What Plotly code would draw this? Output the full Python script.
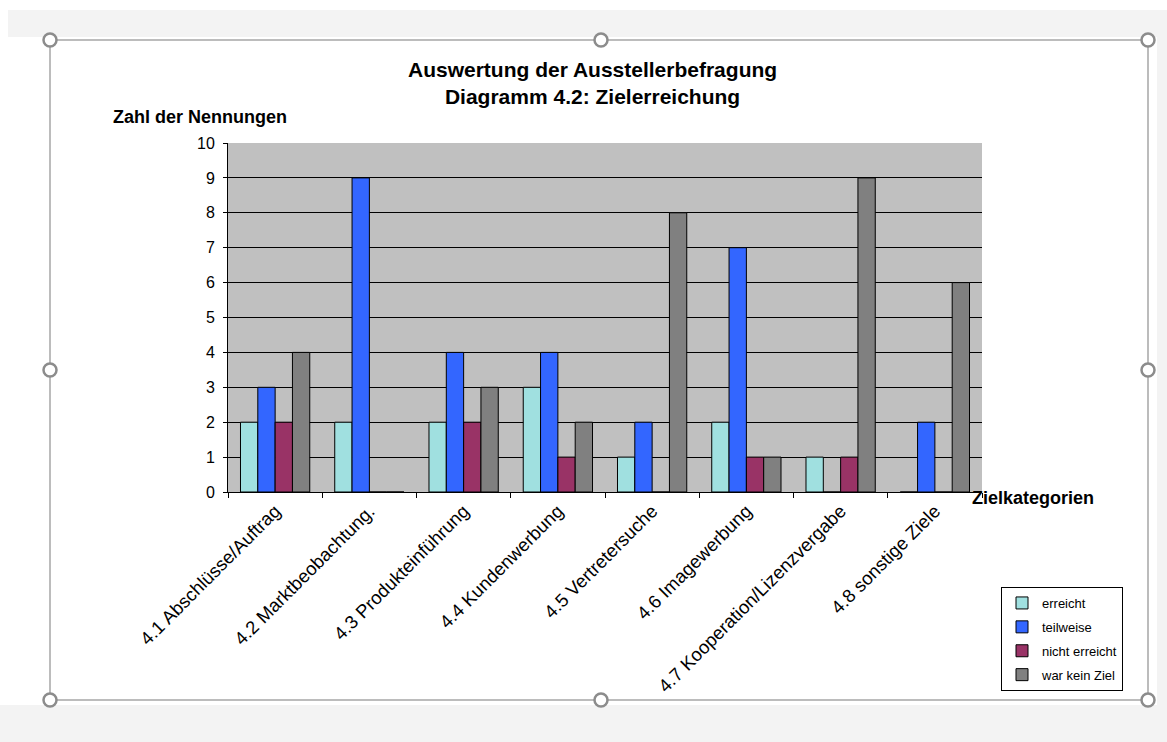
import plotly.graph_objects as go

# ---- data ----
categories = [
    "4.1 Abschlüsse/Auftrag",
    "4.2 Marktbeobachtung.",
    "4.3 Produkteinführung",
    "4.4 Kundenwerbung",
    "4.5 Vertretersuche",
    "4.6 Imagewerbung",
    "4.7 Kooperation/Lizenzvergabe",
    "4.8 sonstige Ziele",
]
erreicht = [2, 2, 2, 3, 1, 2, 1, 0]
teilweise = [3, 9, 4, 4, 2, 7, 0, 2]
nicht_erreicht = [2, 0, 2, 1, 0, 1, 1, 0]
war_kein_ziel = [4, 0, 3, 2, 8, 1, 9, 6]

series_names = ["erreicht", "teilweise", "nicht erreicht", "war kein Ziel"]
series_values = [erreicht, teilweise, nicht_erreicht, war_kein_ziel]
series_colors = ["#A0E0E0", "#3366FF", "#993366", "#808080"]

y_ticks = list(range(0, 11))

FONT = "Liberation Sans, Arial, Helvetica, sans-serif"

W, H = 1167, 742
ML, MR, MT, MB = 228, 185, 143, 250
PW = W - ML - MR
PH = H - MT - MB


def px(x):
    return (x - ML) / PW


def py(y):
    return (H - MB - y) / PH


fig = go.Figure()
for i, (name, vals, col) in enumerate(zip(series_names, series_values, series_colors)):
    fig.add_trace(go.Bar(
        name=name, x=categories, y=vals,
        marker=dict(color=col, line=dict(color="black", width=1)),
        legendgroup=f"g{i}",
    ))

shapes = []
GRAY = "#f3f3f3"
# surrounding light-grey window area
for (x0, y0, x1, y1) in [(8, 10, 1167, 37), (1157, 10, 1167, 742), (0, 705, 1167, 742)]:
    shapes.append(dict(type="rect", xref="paper", yref="paper",
                       x0=px(x0), x1=px(x1), y0=py(y1), y1=py(y0),
                       fillcolor=GRAY, line=dict(width=0), layer="below"))
# selection frame
shapes.append(dict(type="rect", xref="paper", yref="paper",
                   x0=px(50), x1=px(1148), y0=py(700), y1=py(40),
                   line=dict(color="#a6a6a6", width=1.5), fillcolor="rgba(0,0,0,0)", layer="above"))
r = 6.5
for (cx, cy) in [(50, 40), (601, 40), (1148, 40), (50, 370), (1148, 370), (50, 700), (601, 700), (1148, 700)]:
    shapes.append(dict(type="circle", xref="paper", yref="paper",
                       x0=px(cx - r), x1=px(cx + r), y0=py(cy + r), y1=py(cy - r),
                       fillcolor="white", line=dict(color="#8c8c8c", width=2.5), layer="above"))

annotations = [
    dict(text="<b>Auswertung der Ausstellerbefragung<br>Diagramm 4.2: Zielerreichung</b>",
         xref="paper", yref="paper", x=px(592), y=py(83), xanchor="center", yanchor="middle",
         showarrow=False, font=dict(family=FONT, size=21, color="black")),
    dict(text="<b>Zahl der Nennungen</b>", xref="paper", yref="paper",
         x=px(200), y=py(117), xanchor="center", yanchor="middle",
         showarrow=False, font=dict(family=FONT, size=18, color="black")),
    dict(text="<b>Zielkategorien</b>", xref="paper", yref="paper",
         x=px(1033), y=py(498), xanchor="center", yanchor="middle",
         showarrow=False, font=dict(family=FONT, size=18, color="black")),
]

fig.update_layout(
    width=W, height=H,
    margin=dict(l=ML, r=MR, t=MT, b=MB, autoexpand=False),
    paper_bgcolor="white",
    plot_bgcolor="#C0C0C0",
    barmode="group", bargap=0.265, bargroupgap=0,
    font=dict(family=FONT, color="black"),
    showlegend=True,
    legend=dict(
        x=px(1001), y=py(587), xanchor="left", yanchor="top",
        bgcolor="white", bordercolor="black", borderwidth=1,
        font=dict(family=FONT, size=13, color="black"),
        traceorder="grouped", tracegroupgap=4,
        itemwidth=30,
    ),
    shapes=shapes,
    annotations=annotations,
)
fig.update_xaxes(
    type="category", tickangle=-45, tickson="boundaries",
    ticks="outside", ticklen=5, tickcolor="black",
    showline=True, linecolor="black", linewidth=1,
    showgrid=False, tickfont=dict(family=FONT, size=18.5, color="black"),
    automargin=False,
)
fig.update_yaxes(
    range=[0, 10], tickvals=y_ticks, ticks="outside", ticklen=4, tickcolor="black",
    showline=True, linecolor="black", linewidth=1,
    showgrid=True, gridcolor="black", gridwidth=1, zeroline=False,
    tickfont=dict(family=FONT, size=16, color="black"),
    ticklabelstandoff=5,
    automargin=False,
)

fig.write_html("out.html")
